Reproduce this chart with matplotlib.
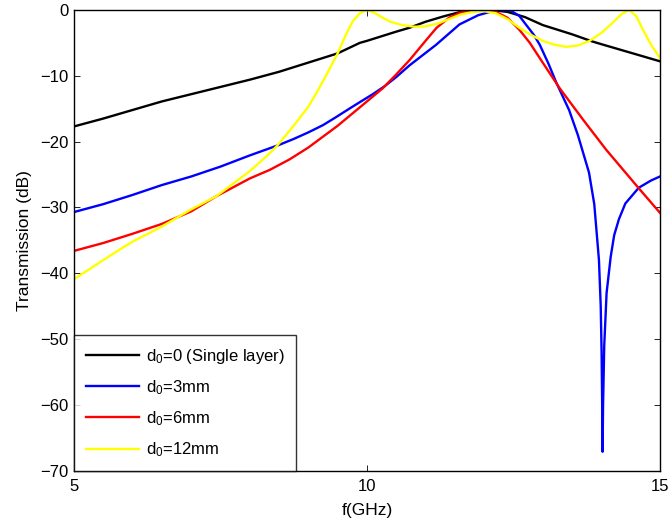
import numpy as np
import matplotlib
matplotlib.use('Agg')
import matplotlib.pyplot as plt

plt.rcParams['font.family'] = ['Liberation Sans', 'DejaVu Sans']
plt.rcParams['mathtext.fontset'] = 'custom'
plt.rcParams['mathtext.rm'] = 'Liberation Sans'
plt.rcParams['mathtext.default'] = 'regular'

# black: single layer
f_d0 = [5.0, 5.5, 6.0, 6.5, 7.0, 7.5, 8.0, 8.5, 9.0, 9.5, 9.88, 10.0, 10.5, 10.73, 11.0,
        11.3, 11.6, 11.8, 12.0, 12.2, 12.4, 12.7, 13.0, 13.5, 13.85, 14.0, 14.5, 15.0]
t_d0 = [-17.7, -16.5, -15.2, -13.9, -12.8, -11.7, -10.6, -9.4, -8.0, -6.6, -5.0, -4.7, -3.3, -2.7, -1.8,
        -1.0, -0.3, -0.05, 0.0, -0.1, -0.3, -1.1, -2.3, -3.7, -4.8, -5.2, -6.5, -7.8]

# blue: d0 = 3mm
f_d3 = [5.0, 5.5, 6.0, 6.5, 7.0, 7.5, 8.0, 8.5, 8.75, 9.0, 9.25, 9.47, 9.7, 9.88, 10.1, 10.3, 10.5,
        10.73, 11.18, 11.58,
        11.9, 12.2, 12.45, 12.6, 12.72, 12.85, 12.95, 13.1, 13.23, 13.45, 13.6, 13.79, 13.88,
        13.96, 13.99, 14.005, 14.015, 14.022, 14.03, 14.05, 14.09, 14.16, 14.22, 14.3, 14.41,
        14.64, 14.85, 15.0]
t_d3 = [-30.7, -29.5, -28.1, -26.6, -25.3, -23.8, -22.1, -20.5, -19.6, -18.6, -17.5, -16.3, -15.0, -14.0, -12.8, -11.6, -10.2,
        -8.4, -5.3, -2.2,
        -0.8, -0.05, -0.1, -0.9, -2.3, -3.8, -5.3, -8.2, -11.0, -15.2, -19.0, -24.7, -29.5,
        -38.0, -45.0, -52.0, -60.0, -67.1, -60.0, -51.0, -43.0, -37.5, -34.2, -31.8, -29.4,
        -27.0, -25.9, -25.3]

# red: d0 = 6mm
f_d6 = [5.0, 5.5, 6.0, 6.5, 7.0, 7.43, 8.0, 8.34, 8.68, 9.0, 9.5, 10.0, 10.27, 10.5, 10.73,
        11.0, 11.19, 11.4, 11.6, 11.8, 12.0, 12.2, 12.4, 12.6, 12.78, 13.0, 13.29, 13.7,
        14.08, 14.65, 15.0]
t_d6 = [-36.6, -35.4, -34.0, -32.5, -30.6, -28.3, -25.6, -24.3, -22.7, -20.9, -17.6, -13.9, -11.9, -9.8, -7.6,
        -4.7, -2.7, -1.2, -0.4, -0.1, 0.0, -0.3, -1.2, -3.0, -5.0, -8.0, -11.9, -16.8,
        -21.2, -27.2, -30.8]

# yellow: d0 = 12mm
f_d12 = [5.0, 5.5, 5.78, 6.0, 6.5, 7.0, 7.43, 8.0, 8.29, 8.46, 8.74, 9.0, 9.14, 9.3, 9.5,
         9.65, 9.76, 9.88, 10.0, 10.12, 10.25, 10.4, 10.6, 10.8, 11.0, 11.2, 11.4, 11.6, 11.8,
         12.0, 12.2, 12.4, 12.6, 12.8, 13.0, 13.2, 13.4, 13.6, 13.8, 14.0, 14.2, 14.35, 14.48,
         14.6, 14.71, 14.85, 15.0]
t_d12 = [-40.9, -38.0, -36.4, -35.2, -32.9, -30.3, -28.3, -24.5, -22.2, -20.7, -17.7, -14.7, -12.6, -10.0, -6.6,
         -3.6, -1.7, -0.5, 0.0, -0.4, -1.1, -1.8, -2.3, -2.55, -2.5, -2.1, -1.4, -0.7, -0.3,
         -0.2, -0.5, -1.4, -2.7, -3.8, -4.7, -5.3, -5.6, -5.4, -4.7, -3.5, -1.9, -0.6, 0.0,
         -1.0, -3.0, -5.3, -7.3]

labels = ['d$_0$=0 (Single layer)', 'd$_0$=3mm', 'd$_0$=6mm', 'd$_0$=12mm']
colors = ['black', 'blue', 'red', 'yellow']

fig = plt.figure(figsize=(6.72, 5.22), dpi=100)
ax = fig.add_axes([0.110, 0.098, 0.872, 0.883])

series = [(f_d0, t_d0), (f_d3, t_d3), (f_d6, t_d6), (f_d12, t_d12)]
for (f, t), c, lab in zip(series, colors, labels):
    ax.plot(f, t, color=c, lw=1.7, label=lab)

ax.set_xlim(5, 15)
ax.set_ylim(-70, 0)
ax.set_xticks([5, 10, 15])
ax.set_yticks(np.arange(-70, 1, 10))
ax.tick_params(direction='in', length=4.5, width=0.6, top=True, right=True, labelsize=12)
ax.tick_params(axis='x', pad=6)
ax.tick_params(axis='y', pad=4)
for s in ax.spines.values():
    s.set_linewidth(1.0)
ax.set_xlabel('f(GHz)', fontsize=12.5, labelpad=6)
ax.set_ylabel('Transmission (dB)', fontsize=12.5, labelpad=6)

leg = ax.legend(loc='lower left', fontsize=12, frameon=True, fancybox=False, borderaxespad=0,
                handlelength=3.2, handletextpad=0.4, labelspacing=0.75, borderpad=0.7)
leg.get_frame().set_edgecolor('black')
leg.get_frame().set_linewidth(1.0)

fig.savefig('out.png', dpi=100)
